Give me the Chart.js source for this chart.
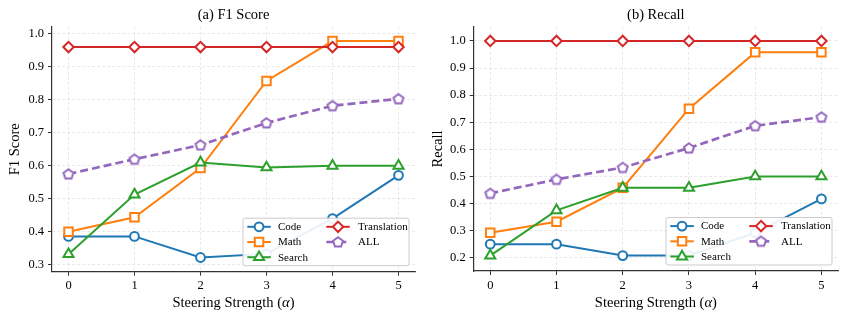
<!DOCTYPE html>
<html>
<head>
<meta charset="utf-8">
<script src="https://cdn.jsdelivr.net/npm/chart.js@4.4.0/dist/chart.umd.min.js"></script>
<style>
    body { margin: 0; background: #fff; width: 847px; height: 321px; overflow: hidden; position: relative; }
    .panel { position: absolute; top: 0; height: 321px; }
</style>
</head>
<body>
<div class="panel" style="left:0;width:423px"><canvas id="f1" width="423" height="321"></canvas></div>
<div class="panel" style="left:423px;width:424px"><canvas id="recall" width="424" height="321"></canvas></div>
<script>
const steps = [0, 1, 2, 3, 4, 5];

// F1 Score panel
const f1Code = [0.386, 0.386, 0.322, 0.333, 0.44, 0.571];
const f1Math = [0.40, 0.444, 0.593, 0.857, 0.978, 0.978];
const f1Search = [0.332, 0.513, 0.61, 0.595, 0.60, 0.60];
const f1Translation = [0.96, 0.96, 0.96, 0.96, 0.96, 0.96];
const f1All = [0.575, 0.62, 0.663, 0.73, 0.782, 0.803];
const f1Ticks = [0.3, 0.4, 0.5, 0.6, 0.7, 0.8, 0.9, 1.0];

// Recall panel
const recallCode = [0.25, 0.25, 0.208, 0.208, 0.292, 0.417];
const recallMath = [0.292, 0.333, 0.458, 0.75, 0.958, 0.958];
const recallSearch = [0.208, 0.375, 0.458, 0.458, 0.5, 0.5];
const recallTranslation = [1.0, 1.0, 1.0, 1.0, 1.0, 1.0];
const recallAll = [0.4375, 0.489, 0.533, 0.605, 0.687, 0.719];
const recallTicks = [0.2, 0.3, 0.4, 0.5, 0.6, 0.7, 0.8, 0.9, 1.0];

const fam = "'Liberation Serif', 'Times New Roman', serif";
Chart.defaults.font.family = fam;
Chart.defaults.color = '#000';

const LW = 2;

// pentagon marker, chart.js has no built-in one
function makePentagon(color) {
    const c = document.createElement('canvas');
    c.width = 16; c.height = 16;
    const g = c.getContext('2d');
    g.beginPath();
    for (let k = 0; k < 5; k++) {
        const a = -Math.PI / 2 + k * 2 * Math.PI / 5;
        const px = 8 + 5.2 * Math.cos(a), py = 8.4 + 5.2 * Math.sin(a);
        k ? g.lineTo(px, py) : g.moveTo(px, py);
    }
    g.closePath();
    g.fillStyle = '#fff';
    g.fill();
    g.lineWidth = LW;
    g.strokeStyle = color;
    g.stroke();
    return c;
}

const series = [
    { label: 'Code', color: '#1f77b4', style: 'circle', r: 4.4 },
    { label: 'Math', color: '#ff7f0e', style: 'rect', r: 6 },
    { label: 'Search', color: '#2ca02c', style: 'triangle', r: 5.8 },
    { label: 'Translation', color: '#d62728', style: 'rectRot', r: 5.2 },
    { label: 'ALL', color: '#9467bd', style: makePentagon('#9467bd'), r: 5.5, dash: [8, 4], width: 2.7 }
];

function drawMarker(ctx, style, r, x, y, color) {
    if (style instanceof HTMLCanvasElement) {
        ctx.drawImage(style, x - style.width / 2, y - style.height / 2);
        return;
    }
    ctx.save();
    ctx.setLineDash([]);
    ctx.fillStyle = '#fff';
    ctx.strokeStyle = color;
    ctx.lineWidth = LW;
    ctx.beginPath();
    if (style === 'circle') {
        ctx.arc(x, y, r, 0, Math.PI * 2);
    } else if (style === 'rect') {
        const s = r * Math.SQRT1_2;
        ctx.rect(x - s, y - s, 2 * s, 2 * s);
    } else if (style === 'rectRot') {
        ctx.moveTo(x - r, y); ctx.lineTo(x, y - r); ctx.lineTo(x + r, y); ctx.lineTo(x, y + r);
        ctx.closePath();
    } else if (style === 'triangle') {
        for (let k = 0; k < 3; k++) {
            const a = -Math.PI / 2 + k * 2 * Math.PI / 3;
            const px = x + r * Math.cos(a), py = y + r * Math.sin(a);
            k ? ctx.lineTo(px, py) : ctx.moveTo(px, py);
        }
        ctx.closePath();
    }
    ctx.fill();
    ctx.stroke();
    ctx.restore();
}

// legend box inside the plot, lower right, two columns
const boxLegend = {
    id: 'boxLegend',
    afterDatasetsDraw(chart) {
        const ctx = chart.ctx, a = chart.chartArea;
        const w = 166, h = 47.5;
        const x0 = a.right - 6 - w, y0 = a.bottom - 6 - h;
        ctx.save();
        ctx.beginPath();
        ctx.roundRect(x0, y0, w, h, 2);
        ctx.fillStyle = 'rgba(255,255,255,0.9)';
        ctx.fill();
        ctx.lineWidth = 1;
        ctx.strokeStyle = '#cccccc';
        ctx.stroke();
        series.forEach((s, i) => {
            const col = i < 3 ? 0 : 1, row = i < 3 ? i : i - 3;
            const hx = x0 + (col ? 83.3 : 4.3), hy = y0 + 8.6 + row * 15.2;
            ctx.beginPath();
            ctx.setLineDash(s.dash || []);
            ctx.lineWidth = s.width || LW;
            ctx.strokeStyle = s.color;
            ctx.moveTo(hx, hy);
            ctx.lineTo(hx + 23.5, hy);
            ctx.stroke();
            drawMarker(ctx, s.style, s.r, hx + 11.75, hy, s.color);
            ctx.font = '11px ' + fam;
            ctx.fillStyle = '#000';
            ctx.textBaseline = 'middle';
            ctx.fillText(s.label, x0 + (col ? 115 : 35), hy + 0.5);
        });
        ctx.restore();
    }
};

// x title with an italic alpha
const xTitle = {
    id: 'xTitle',
    afterDraw(chart) {
        const ctx = chart.ctx, a = chart.chartArea;
        const parts = [['Steering Strength (', ''], ['α', 'italic '], [')', '']];
        ctx.save();
        ctx.textBaseline = 'middle';
        ctx.fillStyle = '#000';
        let total = 0;
        const widths = parts.map(p => {
            ctx.font = p[1] + '14.5px ' + fam;
            const wd = ctx.measureText(p[0]).width;
            total += wd;
            return wd;
        });
        let x = (a.left + a.right) / 2 - total / 2;
        parts.forEach((p, i) => {
            ctx.font = p[1] + '14.5px ' + fam;
            ctx.fillText(p[0], x, 303);
            x += widths[i];
        });
        ctx.restore();
    }
};

function makeDatasets(values) {
    return series.map((s, i) => ({
        label: s.label,
        data: steps.map((x, j) => ({ x: x, y: values[i][j] })),
        borderColor: s.color,
        backgroundColor: '#fff',
        borderWidth: s.width || LW,
        borderDash: s.dash || [],
        pointStyle: s.style,
        pointRadius: s.r,
        pointBorderWidth: LW,
        pointBorderColor: s.color,
        pointBackgroundColor: '#fff',
        tension: 0,
        order: 4 - i,
        clip: false
    }));
}

function axisStyle() {
    return {
        grid: { color: 'rgba(0,0,0,0.11)', lineWidth: 0.8, tickColor: '#333', tickLength: 4, tickWidth: 1 },
        border: { color: '#333', width: 1.2, dash: [3, 2] }
    };
}

function createChart(id, values, cfg) {
    return new Chart(document.getElementById(id), {
        type: 'line',
        data: { datasets: makeDatasets(values) },
        options: {
            responsive: false,
            animation: false,
            events: [],
            layout: { padding: { left: 0, right: cfg.padRight, top: 0, bottom: 0 } },
            plugins: {
                legend: { display: false },
                tooltip: { enabled: false },
                title: {
                    display: true,
                    text: cfg.title,
                    fullSize: false,
                    color: '#000',
                    font: { size: 14.5, weight: 'normal' },
                    padding: { top: 6.5, bottom: 3 }
                }
            },
            scales: {
                x: {
                    type: 'linear',
                    min: -0.25,
                    max: 5.25,
                    afterBuildTicks: s => { s.ticks = steps.map(v => ({ value: v })); },
                    afterFit: s => { s.height = cfg.xHeight; },
                    ticks: { font: { size: 12.5 }, color: '#000', padding: 3, maxRotation: 0 },
                    ...axisStyle()
                },
                y: {
                    min: cfg.yMin,
                    max: cfg.yMax,
                    afterBuildTicks: s => { s.ticks = cfg.yTicks.map(v => ({ value: v })); },
                    afterFit: s => { s.width = cfg.yWidth; },
                    ticks: { font: { size: 12.5 }, color: '#000', padding: 4, callback: v => v.toFixed(1) },
                    title: { display: true, text: cfg.yLabel, color: '#000', font: { size: 14.5 }, padding: { top: 6, bottom: 0 } },
                    ...axisStyle()
                }
            }
        },
        plugins: [boxLegend, xTitle]
    });
}

createChart('f1', [f1Code, f1Math, f1Search, f1Translation, f1All], {
    title: '(a) F1 Score', yLabel: 'F1 Score',
    yMin: 0.279, yMax: 1.021, yTicks: f1Ticks,
    yWidth: 52, xHeight: 49.3, padRight: 6.3
});

createChart('recall', [recallCode, recallMath, recallSearch, recallTranslation, recallAll], {
    title: '(b) Recall', yLabel: 'Recall',
    yMin: 0.151, yMax: 1.052, yTicks: recallTicks,
    yWidth: 50.7, xHeight: 50, padRight: 9
});
</script>
</body>
</html>
